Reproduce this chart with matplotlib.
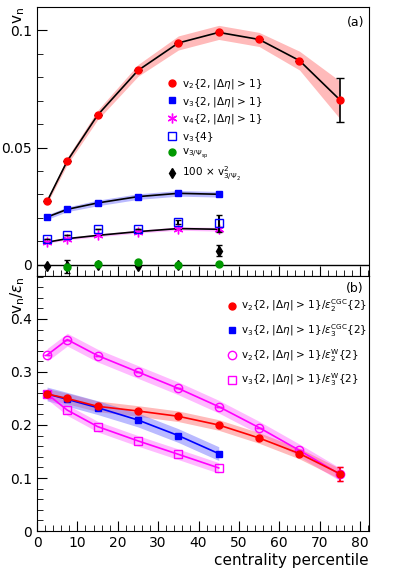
import matplotlib
matplotlib.use('Agg')
import matplotlib.pyplot as plt
from matplotlib.lines import Line2D
from matplotlib.ticker import MultipleLocator
import numpy as np

cent = [2.5, 7.5, 15, 25, 35, 45, 55, 65, 75]
cent6 = cent[:6]

# panel (a)
v2 = [0.0271, 0.0443, 0.0638, 0.0828, 0.0945, 0.0990, 0.0960, 0.0870, 0.0703]
v2_sys = [0.001, 0.0015, 0.002, 0.0025, 0.003, 0.003, 0.003, 0.004, 0.008]
v2_err = [0, 0, 0, 0, 0, 0, 0, 0, 0.0094]
v3 = [0.0204, 0.0237, 0.0264, 0.0291, 0.0305, 0.0301]
v3_sys = [0.001, 0.001, 0.0012, 0.0012, 0.0012, 0.0012]
v4 = [0.0097, 0.0112, 0.0126, 0.0142, 0.0155, 0.0152]
v4_sys = [0.0005, 0.0005, 0.0006, 0.0006, 0.0007, 0.0008]
v4_err = [0, 0, 0, 0, 0, 0.0008]
v3_4 = [0.0109, 0.0128, 0.0155, 0.0153, 0.0184, 0.0177]
v3_4_err = [0, 0, 0, 0, 0.0008, 0.0035]
v3sp_x = [7.5, 15, 25, 35, 45]
v3sp = [-0.0007, 0.0003, 0.0011, -0.0002, 0.0004]
v3sp_err = [0.0027, 0, 0, 0, 0]
v3psi_x = [2.5, 7.5, 15, 25, 35, 45]
v3psi = [-0.0005, -0.0003, 0.0001, -0.0003, 0.0, 0.0061]
v3psi_err = [0.0003, 0.0003, 0.0003, 0.0003, 0.0003, 0.0024]

# panel (b)
r2cgc = [0.2585, 0.250, 0.2352, 0.2264, 0.2164, 0.200, 0.1755, 0.146, 0.108]
r2cgc_err = [0, 0, 0, 0, 0, 0, 0, 0, 0.013]
r3cgc = [0.2585, 0.2484, 0.2327, 0.2094, 0.180, 0.146]
r2w = [0.332, 0.361, 0.331, 0.300, 0.269, 0.2346, 0.195, 0.152, 0.107]
r2w_err = [0, 0, 0, 0, 0, 0, 0, 0, 0.013]
r3w = [0.2585, 0.228, 0.197, 0.170, 0.1447, 0.119]

red = '#ff0000'
blue = '#0000ff'
mag = '#ff00ff'
green = '#009900'
star = (6, 2, 0)

fig = plt.figure(figsize=(3.98, 5.76), dpi=100)
axa = fig.add_axes([0.093, 0.5208, 0.834, 0.467])
axb = fig.add_axes([0.093, 0.0781, 0.834, 0.4427])


def style(ax):
    ax.tick_params(direction='in', which='both', top=False, right=False, labelsize=10)
    ax.tick_params(which='major', length=7)
    ax.tick_params(which='minor', length=4)
    ax.xaxis.set_major_locator(MultipleLocator(10))
    ax.xaxis.set_minor_locator(MultipleLocator(2))
    ax.set_xlim(0, 82.2)


def band(ax, x, y, s, color):
    y = np.array(y)
    s = np.array(s)
    ax.fill_between(x, y - s, y + s, color=color, alpha=0.45, lw=0)


# ---- panel (a)
style(axa)
axa.set_ylim(-0.0047, 0.1098)
axa.yaxis.set_minor_locator(MultipleLocator(0.01))
axa.set_yticks([0, 0.05, 0.1])
axa.set_yticklabels(['0', '0.05', '0.1'])
axa.tick_params(axis='x', labelbottom=False)
axa.axhline(0, color='k', lw=1)

band(axa, cent, v2, v2_sys, '#ff6666')
band(axa, cent6, v3, v3_sys, '#6666ff')
band(axa, cent6, v4, v4_sys, '#ff66ff')
axa.plot(cent, v2, color='k', lw=1.2)
axa.plot(cent6, v3, color='k', lw=1.2)
axa.plot(cent6, v4, color='k', lw=1.2)
axa.errorbar(cent, v2, yerr=v2_err, fmt='o', color=red, ms=5, ecolor='k', capsize=3, elinewidth=1.2)
axa.errorbar(cent6, v3, fmt='s', color=blue, ms=5)
axa.errorbar(cent6, v4, yerr=v4_err, fmt='none', ecolor='k', capsize=2)
axa.plot(cent6, v4, ls='none', marker=star, color=mag, ms=7, mew=1)
axa.errorbar(cent6, v3_4, yerr=v3_4_err, fmt='s', mfc='none', mec=blue, ms=6, ecolor='k', capsize=2)
axa.errorbar(v3psi_x, v3psi, yerr=v3psi_err, fmt='d', color='k', ms=5, capsize=2)
axa.errorbar(v3sp_x, v3sp, yerr=v3sp_err, fmt='o', color=green, ms=5, ecolor='k', capsize=2)

hA = [
    Line2D([], [], ls='none', marker='o', color=red, ms=5),
    Line2D([], [], ls='none', marker='s', color=blue, ms=5),
    Line2D([], [], ls='none', marker=star, color=mag, ms=7, mew=1),
    Line2D([], [], ls='none', marker='s', mfc='none', mec=blue, ms=6),
    Line2D([], [], ls='none', marker='o', color=green, ms=5),
    Line2D([], [], ls='none', marker='d', color='k', ms=5),
]
lA = [
    r'v$_2${2, |$\Delta\eta$| > 1}',
    r'v$_3${2, |$\Delta\eta$| > 1}',
    r'v$_4${2, |$\Delta\eta$| > 1}',
    r'v$_3${4}',
    r'v$_{3/\Psi_{\rm sp}}$',
    r'100 $\times$ v$^2_{3/\Psi_2}$',
]
axa.legend(hA, lA, loc='upper left', bbox_to_anchor=(0.395, 0.74), frameon=False,
           fontsize=7.5, handlelength=0.8, handletextpad=0.5, labelspacing=0.35,
           borderaxespad=0, borderpad=0)
axa.text(0.985, 0.965, '(a)', transform=axa.transAxes, ha='right', va='top', fontsize=9)
axa.text(-0.03, 1.0, r'v$_{\rm n}$', transform=axa.transAxes, rotation=90,
         ha='right', va='top', fontsize=11)

# ---- panel (b)
style(axb)
axb.set_ylim(0, 0.481)
axb.yaxis.set_minor_locator(MultipleLocator(0.02))
axb.set_yticks([0, 0.1, 0.2, 0.3, 0.4])
axb.set_yticklabels(['0', '0.1', '0.2', '0.3', '0.4'])

band(axb, cent, r2w, [0.012] * 9, '#ff66ff')
band(axb, cent, r2cgc, [0.01] * 9, '#ff6666')
band(axb, cent6, r3cgc, [0.013] * 6, '#6666ff')
band(axb, cent6, r3w, [0.01] * 6, '#ff66ff')

axb.errorbar(cent, r2w, yerr=r2w_err, fmt='-o', color=mag, mfc='none', ms=6, lw=1.2,
             ecolor=mag, capsize=2)
axb.errorbar(cent, r2cgc, yerr=r2cgc_err, fmt='-o', color=red, ms=5, lw=1.2,
             ecolor=red, capsize=2)
axb.plot(cent6, r3cgc, '-s', color=blue, ms=5, lw=1.2)
axb.plot(cent6, r3w, '-s', color=mag, mfc='none', ms=6, lw=1.2)

hB = [
    Line2D([], [], ls='none', marker='o', color=red, ms=5),
    Line2D([], [], ls='none', marker='s', color=blue, ms=5),
    Line2D([], [], ls='none', marker='o', mfc='none', mec=mag, ms=6),
    Line2D([], [], ls='none', marker='s', mfc='none', mec=mag, ms=6),
]
lB = [
    r'v$_2${2, |$\Delta\eta$| > 1}/$\varepsilon_2^{\rm CGC}${2}',
    r'v$_3${2, |$\Delta\eta$| > 1}/$\varepsilon_3^{\rm CGC}${2}',
    r'v$_2${2, |$\Delta\eta$| > 1}/$\varepsilon_2^{\rm W}${2}',
    r'v$_3${2, |$\Delta\eta$| > 1}/$\varepsilon_3^{\rm W}${2}',
]
axb.legend(hB, lB, loc='upper left', bbox_to_anchor=(0.575, 0.915), frameon=False,
           fontsize=7.5, handlelength=0.8, handletextpad=0.5, labelspacing=0.75,
           borderaxespad=0, borderpad=0)
axb.text(0.985, 0.975, '(b)', transform=axb.transAxes, ha='right', va='top', fontsize=9)
axb.text(-0.03, 1.0, r'v$_{\rm n}$/$\varepsilon_{\rm n}$', transform=axb.transAxes,
         rotation=90, ha='right', va='top', fontsize=11)
axb.set_xlabel('centrality percentile', fontsize=11, loc='right', labelpad=2)

fig.savefig('out.png', dpi=100)
